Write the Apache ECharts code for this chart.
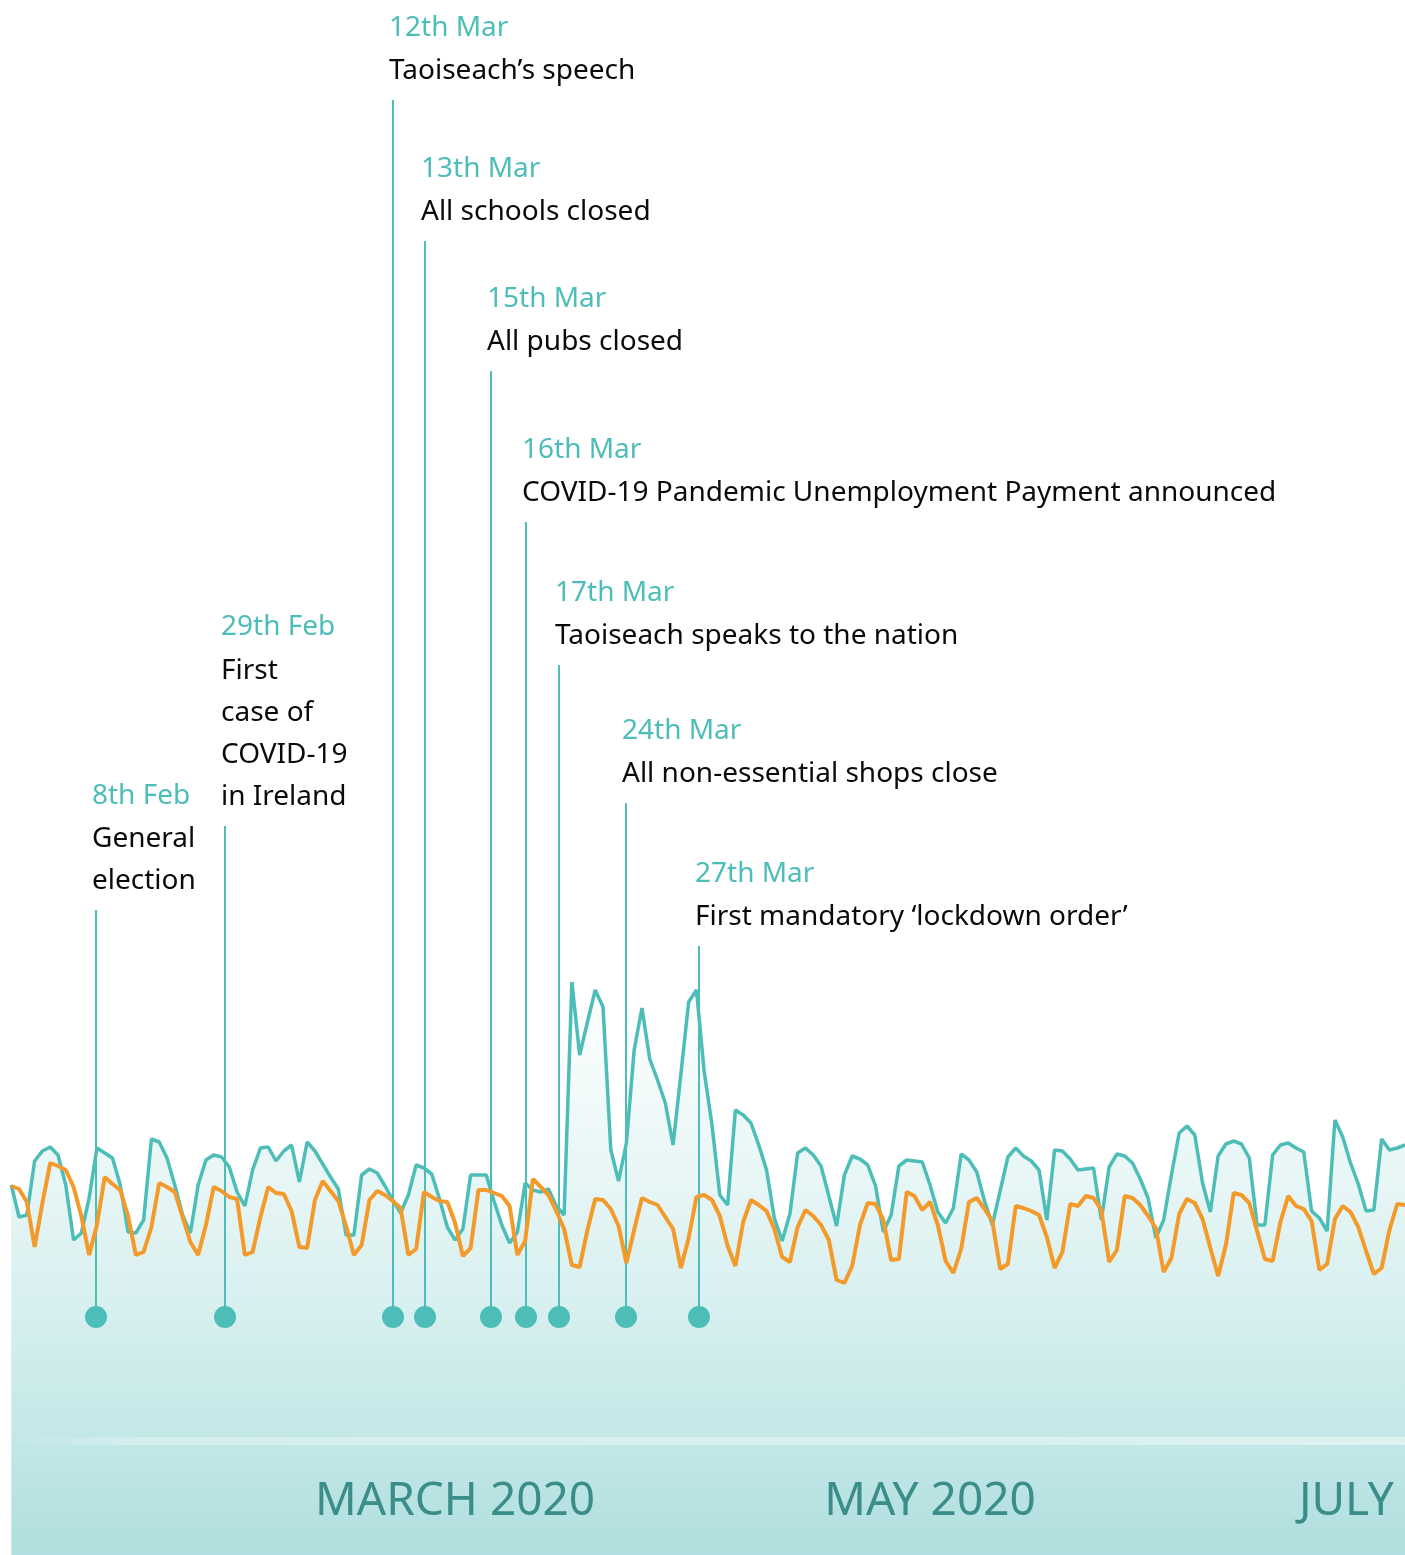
<!DOCTYPE html>
<html><head><meta charset="utf-8">
<style>html,body{margin:0;padding:0;background:#fff;overflow:hidden}#c{width:1405px;height:1555px}</style>
<script src="https://cdn.jsdelivr.net/npm/echarts@6/dist/echarts.min.js"></script>
</head><body><div id="c"></div><script>
// ---- data (daily, index units) ----
const startDate = [2020, 0, 4];
const tealValues = [370,338,340,394,404,408,400,370,315,322,357,407,402,397,370,323,322,335,416,413,397,370,340,322,370,395,400,398,388,363,349,385,407,408,394,404,410,373,413,404,391,378,366,320,320,380,386,382,369,355,342,360,390,387,381,356,328,315,326,380,380,380,354,330,312,323,372,365,363,366,349,340,573,500,533,565,548,405,374,412,505,547,496,475,452,410,481,553,565,483,430,360,350,445,440,432,410,385,337,314,341,402,407,400,389,359,329,380,399,396,390,369,323,340,389,395,394,393,370,343,332,347,401,395,383,354,330,364,398,407,399,394,385,335,405,404,396,385,386,387,335,388,401,399,392,376,357,317,335,380,422,429,420,372,343,399,411,414,411,397,330,330,400,410,412,407,403,344,337,324,435,418,392,371,344,345,416,405,407,410];
const orangeValues = [369,366,353,308,352,392,389,385,368,339,300,330,378,371,365,339,300,303,328,372,368,363,338,313,300,330,368,364,358,356,300,303,338,368,362,361,344,308,307,355,374,364,354,329,300,310,355,364,360,354,347,300,306,363,358,354,353,332,299,307,365,365,362,359,349,300,314,376,368,360,344,326,290,288,325,356,355,346,329,292,325,357,353,350,338,326,287,317,358,360,355,339,309,289,333,355,350,344,326,298,293,328,345,339,330,315,275,272,289,330,352,351,335,295,296,363,359,345,353,330,294,282,306,353,357,346,334,286,291,349,347,344,340,318,287,303,351,349,359,357,345,293,305,359,357,350,339,327,283,297,341,356,352,336,307,279,310,362,360,352,324,296,294,333,359,349,346,334,285,291,336,349,343,328,304,281,287,325,351,350];
const monthTicks = ['2020-03-01', '2020-05-01', '2020-07-01'];
const monthTickLabels = ['MARCH 2020', 'MAY 2020', 'JULY 2020'];
const eventDates = ['8th Feb', '29th Feb', '12th Mar', '13th Mar', '15th Mar', '16th Mar', '17th Mar', '24th Mar', '27th Mar'];
const eventTexts = ['General\nelection', 'First\ncase of\nCOVID-19\nin Ireland', 'Taoiseach\u2019s speech', 'All schools closed', 'All pubs closed', 'COVID-19 Pandemic Unemployment Payment announced', 'Taoiseach speaks to the nation', 'All non-essential shops close', 'First mandatory \u2018lockdown order\u2019'];

// ---- layout (where the annotation markers sit on the axis) ----
const eventAnchor = ['2020-01-14T21:36', '2020-01-31T12:00', '2020-02-22T01:00', '2020-02-26T03:36', '2020-03-05T15:00', '2020-03-10T03:00', '2020-03-14T08:40', '2020-03-22T23:00', '2020-04-01T08:00'];
const eventTop = [645, 729, 1455, 1314, 1184, 1033, 890, 752, 609];
const eventBase = 238;

const TEAL = '#4dbdb8', ORANGE = '#f39a2b';
function parseLocal(s) {
  const m = s.match(/(\d+)-(\d+)-(\d+)(?:T(\d+):(\d+))?/);
  return new Date(+m[1], +m[2] - 1, +m[3], +(m[4] || 0), +(m[5] || 0)).getTime();
}
function dayTs(i) { return new Date(startDate[0], startDate[1], startDate[2] + i).getTime(); }
const tealData = tealValues.map((v, i) => [dayTs(i), v]);
const orangeData = orangeValues.map((v, i) => [dayTs(i), v]);
const tickTs = monthTicks.map(parseLocal);

const chart = echarts.init(document.getElementById('c'), null, {renderer: 'canvas'});
chart.setOption({
  animation: false,
  backgroundColor: '#ffffff',
  grid: {left: 9, right: 0, top: 0, bottom: 0},
  xAxis: {
    type: 'time',
    min: new Date(2020, 0, 3, 17).getTime(),
    max: new Date(2020, 6, 1).getTime(),
    axisLine: {show: false}, axisTick: {show: false}, splitLine: {show: false},
    axisLabel: {show: false}
  },
  yAxis: {type: 'value', min: 0, max: 1555, show: false},
  series: [
    {
      type: 'line', data: tealData, symbol: 'none', z: 1,
      lineStyle: {color: TEAL, width: 3.5},
      areaStyle: {
        color: new echarts.graphic.LinearGradient(0, 980, 0, 1555, [
          {offset: 0, color: '#ffffff'},
          {offset: 0.3, color: '#ebf7f7'},
          {offset: 0.55, color: '#d9f0f0'},
          {offset: 0.8, color: '#c3e7e7'},
          {offset: 1, color: '#afdfde'}
        ], true),
        opacity: 1
      },
      markLine: {
        silent: true, symbol: 'none', label: {show: false},
        lineStyle: {
          type: 'solid', width: 8,
          color: new echarts.graphic.LinearGradient(0, 0, 1, 0, [
            {offset: 0, color: 'rgba(255,255,255,0)'},
            {offset: 0.1, color: 'rgba(255,255,255,0.3)'},
            {offset: 1, color: 'rgba(255,255,255,0.45)'}
          ])
        },
        data: [{yAxis: 114}]
      }
    },
    {
      // month tick labels, placed through the time scale
      type: 'custom', z: 4, clip: false, silent: true,
      data: tickTs.map((t, i) => [t, 0, i]),
      renderItem: function (params, api) {
        const p = api.coord([api.value(0), 0]);
        return {type: 'text', style: {text: monthTickLabels[api.value(2)], x: p[0], y: p[1] - 53,
          fill: '#3a8d89', font: '46px "Noto Sans"', align: 'center', verticalAlign: 'middle'}};
      }
    },
    {
      type: 'custom', z: 2, clip: false,
      data: eventAnchor.map((a, i) => [parseLocal(a), eventTop[i], i]),
      renderItem: function (params, api) {
        const i = api.value(2);
        const top = api.coord([api.value(0), api.value(1)]);
        const base = api.coord([api.value(0), eventBase]);
        const x = Math.round(top[0]);
        const children = [
          {type: 'line', shape: {x1: x, y1: top[1], x2: x, y2: base[1]}, style: {stroke: TEAL, lineWidth: 2}},
          {type: 'circle', shape: {cx: x, cy: base[1], r: 11}, style: {fill: TEAL}}
        ];
        const lines = eventTexts[i].split('\n');
        const lastY = top[1] - 29;
        lines.forEach(function (ln, j) {
          children.push({type: 'text', style: {text: ln, x: x - 4, y: lastY - (lines.length - 1 - j) * 42,
            fill: '#0a0a0a', font: '28px "Noto Sans"', align: 'left', verticalAlign: 'middle'}});
        });
        children.push({type: 'text', style: {text: eventDates[i], x: x - 4, y: lastY - lines.length * 42.5,
          fill: TEAL, font: '28px "Noto Sans"', align: 'left', verticalAlign: 'middle'}});
        return {type: 'group', children: children};
      }
    },
    {
      type: 'line', data: orangeData, symbol: 'none', z: 3,
      lineStyle: {color: ORANGE, width: 4}
    }
  ]
});
</script></body></html>
